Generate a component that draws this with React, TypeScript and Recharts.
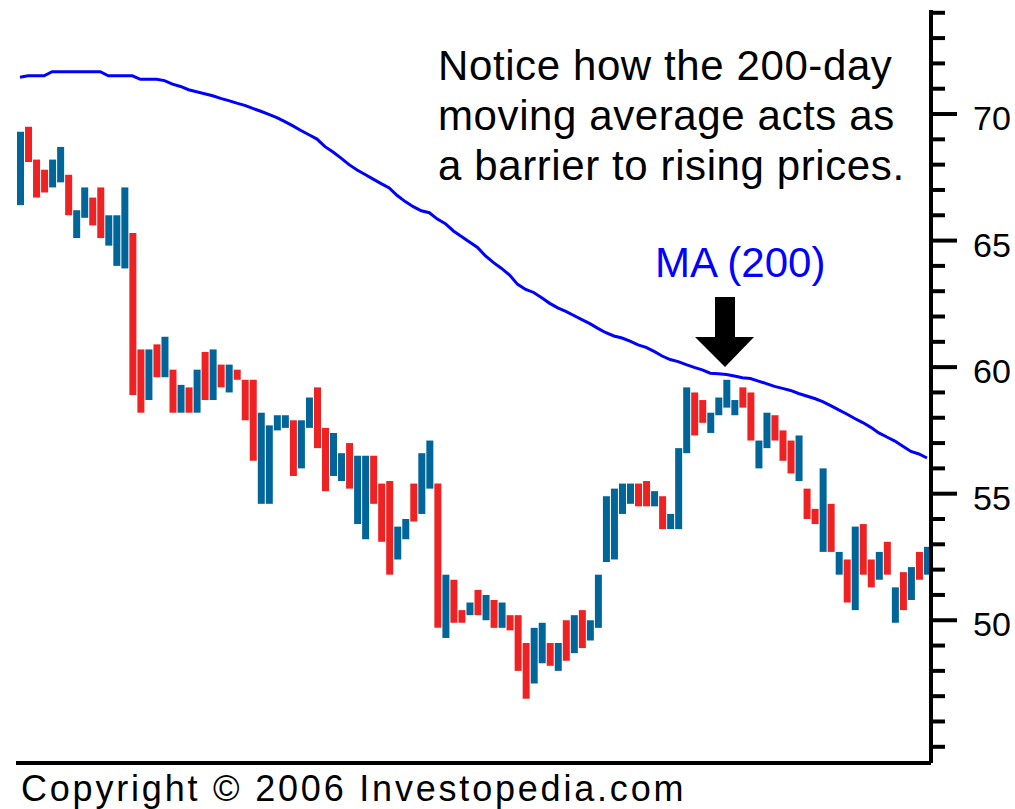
import React from "react"
import { Bar, Cell, ComposedChart, Line, XAxis, YAxis } from "recharts"

// daily highs / lows, oldest first
const highs = [
  69.3, 69.5, 68.2, 67.8, 68.2, 68.7, 67.6, 66.2, 67.1, 66.7, 67.1, 66.0, 66.0, 67.1, 65.3, 60.7,
  60.7, 60.9, 61.2, 59.9, 59.3, 59.2, 59.9, 60.6, 60.7, 60.1, 60.1, 59.9, 59.5, 59.5, 58.2, 57.7,
  58.1, 58.1, 57.9, 57.9, 58.8, 59.2, 57.6, 57.4, 56.6, 57.0, 56.5, 56.5, 56.5, 55.4, 55.5, 53.7,
  54.0, 55.4, 56.6, 57.1, 55.4, 51.8, 51.6, 50.4, 50.7, 51.2, 51.0, 50.8, 50.7, 50.2, 50.2, 49.1,
  49.7, 49.9, 49.1, 49.1, 50.0, 50.2, 50.4, 50.0, 51.8, 54.9, 55.2, 55.4, 55.4, 55.4, 55.5, 55.1,
  54.9, 54.2, 56.8, 59.2, 59.0, 58.7, 58.2, 58.8, 59.5, 58.7, 59.2, 59.0, 57.1, 58.2, 58.1, 57.5,
  57.1, 57.3, 55.2, 54.4, 56.0, 54.6, 52.7, 52.4, 53.7, 53.8, 52.4, 52.7, 53.1, 51.3, 51.9, 52.1,
  52.7, 52.9,
]

const lows = [
  66.4, 68.1, 66.7, 66.9, 67.1, 67.3, 66.0, 65.1, 65.9, 65.6, 65.1, 64.8, 64.0, 63.9, 58.9, 58.2,
  58.7, 59.6, 59.6, 58.2, 58.2, 58.2, 58.2, 58.7, 58.7, 59.2, 59.0, 59.5, 57.9, 56.3, 54.6, 54.6,
  57.5, 57.6, 55.7, 56.0, 57.6, 56.8, 55.1, 55.7, 55.5, 55.2, 53.8, 53.2, 54.6, 53.1, 51.8, 52.4,
  53.2, 53.9, 54.2, 55.2, 49.7, 49.3, 49.9, 49.9, 50.2, 50.2, 50.0, 49.7, 49.7, 49.6, 48.0, 46.9,
  47.5, 48.3, 48.2, 48.0, 48.4, 48.7, 48.9, 49.2, 49.7, 52.3, 52.4, 54.2, 54.6, 54.5, 54.5, 54.5,
  53.6, 53.6, 53.6, 56.6, 57.3, 57.8, 57.4, 58.1, 58.4, 58.1, 58.4, 57.1, 56.0, 56.8, 57.1, 56.3,
  55.8, 55.5, 54.0, 53.8, 52.7, 52.7, 51.8, 50.7, 50.4, 51.8, 51.3, 51.6, 51.8, 49.9, 50.4, 50.8,
  51.6, 51.8,
]

// "u" = closed up (blue), "d" = closed down (red)
const moves = [
  "u", "d", "d", "d", "u", "u", "d", "u", "u", "d", "d", "u", "u", "u", "d", "d",
  "u", "d", "u", "d", "u", "d", "u", "d", "u", "d", "u", "d", "d", "d", "u", "u",
  "u", "u", "d", "u", "u", "d", "d", "u", "u", "d", "u", "u", "d", "d", "d", "u",
  "u", "d", "u", "u", "d", "u", "d", "d", "u", "d", "u", "d", "u", "d", "d", "d",
  "u", "u", "d", "u", "d", "u", "d", "u", "u", "u", "u", "u", "u", "d", "d", "u",
  "d", "u", "u", "u", "d", "d", "u", "u", "u", "u", "d", "d", "u", "u", "d", "d",
  "d", "u", "d", "d", "u", "d", "u", "d", "u", "d", "d", "u", "d", "u", "d", "u",
  "d", "u",
]

// 200-day moving average
const ma200 = [
  71.45, 71.51, 71.51, 71.51, 71.67, 71.67, 71.67, 71.67, 71.67, 71.67, 71.67, 71.51, 71.51, 71.51, 71.51, 71.37,
  71.37, 71.37, 71.32, 71.18, 71.09, 70.96, 70.88, 70.8, 70.72, 70.62, 70.53, 70.43, 70.34, 70.22, 70.11, 69.99,
  69.86, 69.7, 69.53, 69.35, 69.18, 69.01, 68.71, 68.5, 68.26, 68.0, 67.79, 67.61, 67.43, 67.25, 67.08, 66.78,
  66.54, 66.34, 66.18, 66.1, 65.85, 65.67, 65.38, 65.16, 64.94, 64.73, 64.39, 64.13, 63.9, 63.64, 63.27, 63.07,
  62.95, 62.74, 62.52, 62.34, 62.2, 62.04, 61.88, 61.72, 61.53, 61.36, 61.23, 61.15, 61.03, 60.88, 60.78, 60.62,
  60.44, 60.3, 60.22, 60.1, 59.99, 59.89, 59.76, 59.74, 59.71, 59.65, 59.58, 59.55, 59.45, 59.35, 59.24, 59.16,
  59.08, 58.96, 58.86, 58.76, 58.64, 58.48, 58.31, 58.15, 57.97, 57.81, 57.62, 57.4, 57.24, 57.08, 56.87, 56.67,
  56.57, 56.41,
]

const majorTicks = [50, 55, 60, 65, 70]
const allTicks = [45, 46, 47, 48, 49, 50, 51, 52, 53, 54, 55, 56, 57, 58, 59, 60, 61, 62, 63, 64, 65, 66, 67, 68, 69, 70, 71, 72, 73, 74]

const UP = "#006699"
const DOWN = "#ee2222"
const FONT = "'Liberation Sans', Arial, sans-serif"

const data = highs.map((h, i) => ({
  day: i,
  range: [lows[i], h],
  move: moves[i],
  ma: ma200[i],
}))

function PriceTick(props: any) {
  const { x, y, payload } = props
  const major = majorTicks.includes(payload.value)
  return (
    <g>
      <line x1={x} x2={x + (major ? 26 : 14)} y1={y} y2={y} stroke="#000" strokeWidth={4} />
      {major && (
        <text x={x + 42} y={y + 16} fontFamily={FONT} fontSize={34} fill="#000">
          {payload.value}
        </text>
      )}
    </g>
  )
}

export default function App() {
  return (
    <div style={{ position: "absolute", left: 0, top: 0, width: 1015, height: 809, background: "#fff" }}>
      <ComposedChart width={1015} height={809} data={data} margin={{ top: 10, right: 0, bottom: 0, left: 16 }}>
        <XAxis dataKey="day" tick={false} tickLine={false} height={46} axisLine={{ stroke: "#000", strokeWidth: 4 }} />
        <YAxis
          orientation="right"
          width={84}
          domain={[44.36, 74.11]}
          ticks={allTicks}
          interval={0}
          tickSize={0}
          tickMargin={0}
          tickLine={false}
          axisLine={{ stroke: "#000", strokeWidth: 4 }}
          tick={<PriceTick />}
          allowDataOverflow
        />
        <Bar dataKey="range" barSize={7} isAnimationActive={false}>
          {data.map((d, i) => (
            <Cell key={i} fill={d.move === "u" ? UP : DOWN} />
          ))}
        </Bar>
        <Line dataKey="ma" type="linear" stroke="#0000ff" strokeWidth={3} dot={false} isAnimationActive={false} />
      </ComposedChart>
      <svg width={1015} height={809} style={{ position: "absolute", left: 0, top: 0, pointerEvents: "none" }}>
        <g fontFamily={FONT} fontSize={42} fill="#000" letterSpacing={0.6}>
          <text x={438} y={80}>Notice how the 200-day</text>
          <text x={438} y={130}>moving average acts as</text>
          <text x={438} y={180}>a barrier to rising prices.</text>
        </g>
        <text x={655} y={277} fontFamily={FONT} fontSize={42} fill="#0000ff">MA (200)</text>
        <path d="M715,297 L735,297 L735,337 L754,337 L725,367 L695,337 L715,337 Z" fill="#000" />
        <text x={21} y={801} fontFamily={FONT} fontSize={36} fill="#000" letterSpacing={2.8}>
          Copyright © 2006 Investopedia.com
        </text>
      </svg>
    </div>
  )
}
